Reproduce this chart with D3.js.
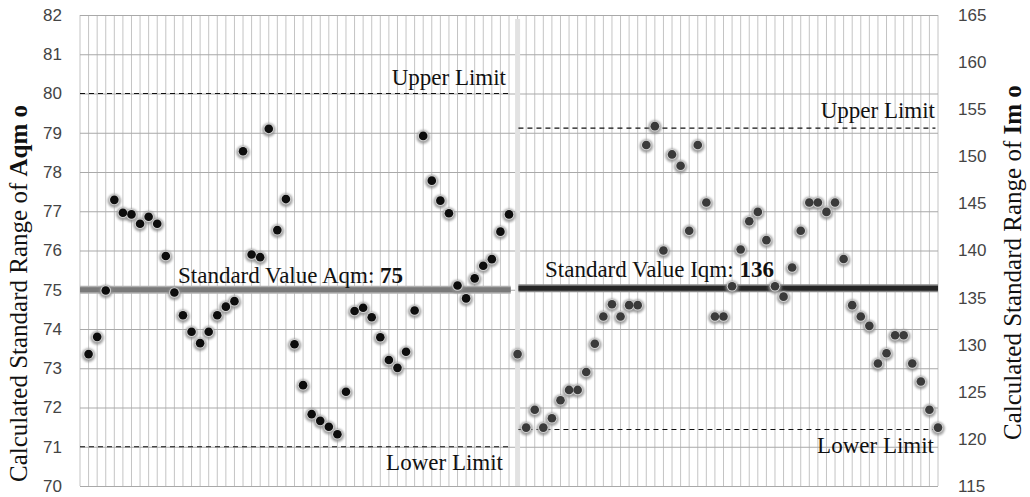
<!DOCTYPE html>
<html>
<head>
<meta charset="utf-8">
<script src="https://cdn.jsdelivr.net/npm/d3@7/dist/d3.min.js"></script>
<style>
  body { margin: 0; background: #fff; }
  #chart { width: 1030px; height: 497px; }
</style>
</head>
<body>
<div id="chart"></div>
<script>
// Aqm values, positions 1..50
const aqmValues = [73.36, 73.80, 74.98, 77.29, 76.96, 76.92, 76.68, 76.86, 76.68, 75.86,
  74.93, 74.35, 73.93, 73.64, 73.93, 74.35, 74.57, 74.71, 78.53, 75.90,
  75.83, 79.10, 76.52, 77.31, 73.61, 72.57, 71.83, 71.66, 71.51, 71.32,
  72.40, 74.46, 74.54, 74.30, 73.79, 73.21, 73.01, 73.42, 74.47, 78.92,
  77.78, 77.27, 76.95, 75.11, 74.78, 75.29, 75.61, 75.78, 76.48, 76.92];
// Iqm values, positions 51..100
const iqmValues = [129.0, 121.2, 123.1, 121.2, 122.2, 124.1, 125.2, 125.2, 127.1, 130.1,
  133.0, 134.3, 133.0, 134.2, 134.2, 151.2, 153.2, 140.0, 150.2, 149.0,
  142.1, 151.2, 145.1, 133.0, 133.0, 136.2, 140.1, 143.1, 144.1, 141.1,
  136.2, 135.1, 138.2, 142.1, 145.1, 145.1, 144.1, 145.1, 139.1, 134.2,
  133.0, 132.0, 128.0, 129.1, 131.0, 131.0, 128.0, 126.1, 123.1, 121.2];

const leftTicks = d3.range(70, 83, 1);
const rightTicks = d3.range(115, 166, 5);
const aqmLimits = { upper: 80, standard: 75, lower: 71 };
const iqmLimits = { upper: 153, standard: 136, lower: 121 };

const width = 1030, height = 497;
const margin = { top: 15, right: 92, bottom: 11, left: 80 };
const nPos = 100;
const split = 51;

const svg = d3.select('#chart').append('svg')
  .attr('width', width)
  .attr('height', height);

const defs = svg.append('defs');
defs.append('filter').attr('id', 'glow')
  .attr('x', '-50%').attr('y', '-50%').attr('width', '200%').attr('height', '200%')
  .append('feGaussianBlur').attr('stdDeviation', 1.3);

const x = d3.scaleLinear()
  .domain([0, nPos])
  .range([margin.left, width - margin.right]);

const yL = d3.scaleLinear()
  .domain([70, 82])
  .range([height - margin.bottom, margin.top]);

const yR = d3.scaleLinear()
  .domain([115, 165])
  .range([height - margin.bottom, margin.top]);

const x0 = x(0), x1 = x(nPos), xs = x(split);

// vertical grid
svg.append('g')
    .attr('stroke', '#c4c4c4')
    .attr('stroke-width', 1)
  .selectAll('line')
  .data(d3.range(0, nPos + 1))
  .join('line')
    .attr('x1', d => x(d)).attr('x2', d => x(d))
    .attr('y1', yL(82)).attr('y2', yL(70));

// horizontal grid
svg.append('g')
    .attr('transform', `translate(${x0},0)`)
    .call(d3.axisLeft(yL).tickValues(leftTicks).tickSize(-(x1 - x0)).tickFormat(''))
    .call(g => g.select('.domain').remove())
    .call(g => g.selectAll('line').attr('stroke', '#a9a9a9'));

// separator
svg.append('line')
  .attr('x1', xs).attr('x2', xs)
  .attr('y1', yL(81.9)).attr('y2', yL(70))
  .attr('stroke', '#e2e2e2')
  .attr('stroke-width', 5);

// axes
svg.append('g')
    .attr('transform', `translate(${x0},0)`)
    .style('font', '17px "Liberation Sans", Arial, sans-serif')
    .call(d3.axisLeft(yL).tickValues(leftTicks).tickSize(0).tickPadding(18))
    .call(g => g.select('.domain').remove())
    .call(g => g.selectAll('text').attr('fill', '#444'));

svg.append('g')
    .attr('transform', `translate(${x1},0)`)
    .style('font', '17px "Liberation Sans", Arial, sans-serif')
    .call(d3.axisRight(yR).tickValues(rightTicks).tickSize(0).tickPadding(20))
    .call(g => g.select('.domain').remove())
    .call(g => g.selectAll('text').attr('fill', '#444'));

// axis titles
const serif = '"Liberation Serif", "Times New Roman", serif';
const leftTitle = svg.append('text')
  .attr('transform', 'translate(27,482) rotate(-90)')
  .style('font', `25px ${serif}`)
  .attr('fill', '#111');
leftTitle.append('tspan').text('Calculated Standard Range of ');
leftTitle.append('tspan').attr('font-weight', 'bold').text('Aqm o');

const rightTitle = svg.append('text')
  .attr('transform', 'translate(1021,440) rotate(-90)')
  .style('font', `25px ${serif}`)
  .attr('fill', '#111');
rightTitle.append('tspan').text('Calculated Standard Range of ');
rightTitle.append('tspan').attr('font-weight', 'bold').text('Im o');

// limit lines
const limitLines = [
  { x1: x0, x2: x(50.2), y: yL(aqmLimits.upper) },
  { x1: x0, x2: x(50.2), y: yL(aqmLimits.lower) },
  { x1: x(51.1), x2: x(99.7), y: yR(iqmLimits.upper) },
  { x1: x(51.1), x2: x(99.7), y: yR(iqmLimits.lower) }
];
svg.append('g')
    .attr('stroke', '#111')
    .attr('stroke-width', 1.2)
    .attr('stroke-dasharray', '5,4')
  .selectAll('line')
  .data(limitLines)
  .join('line')
    .attr('x1', d => d.x1).attr('x2', d => d.x2)
    .attr('y1', d => d.y).attr('y2', d => d.y);

// standard value lines (soft edge + solid core)
const stdLines = [
  { x1: x0, x2: x(50.2), y: yL(aqmLimits.standard), c: '#7a7a7a', e: '#b0b0b0' },
  { x1: x(51.1), x2: x1, y: yR(iqmLimits.standard), c: '#262626', e: '#8a8a8a' }
];
svg.append('g').selectAll('line')
  .data(stdLines)
  .join('line')
    .attr('x1', d => d.x1).attr('x2', d => d.x2)
    .attr('y1', d => d.y).attr('y2', d => d.y)
    .attr('stroke', d => d.e).attr('stroke-width', 8);
svg.append('g').selectAll('line')
  .data(stdLines)
  .join('line')
    .attr('x1', d => d.x1).attr('x2', d => d.x2)
    .attr('y1', d => d.y).attr('y2', d => d.y)
    .attr('stroke', d => d.c).attr('stroke-width', 5);

// labels
const labels = svg.append('g')
  .style('font', `23px ${serif}`)
  .attr('fill', '#111');
labels.append('text').attr('x', 506).attr('y', 85).attr('text-anchor', 'end').text('Upper Limit');
labels.append('text').attr('x', 503).attr('y', 470).attr('text-anchor', 'end').text('Lower Limit');
labels.append('text').attr('x', 935).attr('y', 118).attr('text-anchor', 'end').text('Upper Limit');
labels.append('text').attr('x', 934).attr('y', 453).attr('text-anchor', 'end').text('Lower Limit');

const stdL = labels.append('text').attr('x', 178).attr('y', 283);
stdL.append('tspan').text('Standard Value Aqm: ');
stdL.append('tspan').attr('font-weight', 'bold').text(aqmLimits.standard);
const stdR = labels.append('text').attr('x', 545).attr('y', 277);
stdR.append('tspan').text('Standard Value Iqm: ');
stdR.append('tspan').attr('font-weight', 'bold').text(iqmLimits.standard);

// points
function drawPoints(values, start, y, core) {
  const g = svg.append('g');
  const pts = values.map((v, i) => ({ i: start + i, v }));
  g.selectAll('circle.halo')
    .data(pts)
    .join('circle')
      .attr('class', 'halo')
      .attr('cx', d => x(d.i))
      .attr('cy', d => y(d.v) + 1)
      .attr('r', 6.8)
      .attr('fill', '#8c8c8c')
      .attr('opacity', 0.8)
      .attr('filter', 'url(#glow)');
  g.selectAll('circle.ring')
    .data(pts)
    .join('circle')
      .attr('class', 'ring')
      .attr('cx', d => x(d.i))
      .attr('cy', d => y(d.v))
      .attr('r', 5.3)
      .attr('fill', '#d0d0d0');
  g.selectAll('circle.core')
    .data(pts)
    .join('circle')
      .attr('class', 'core')
      .attr('cx', d => x(d.i))
      .attr('cy', d => y(d.v))
      .attr('r', 4.3)
      .attr('fill', core);
}
drawPoints(aqmValues, 1, yL, '#0d0d0d');
drawPoints(iqmValues, split, yR, '#3a3a3a');
</script>
</body>
</html>
